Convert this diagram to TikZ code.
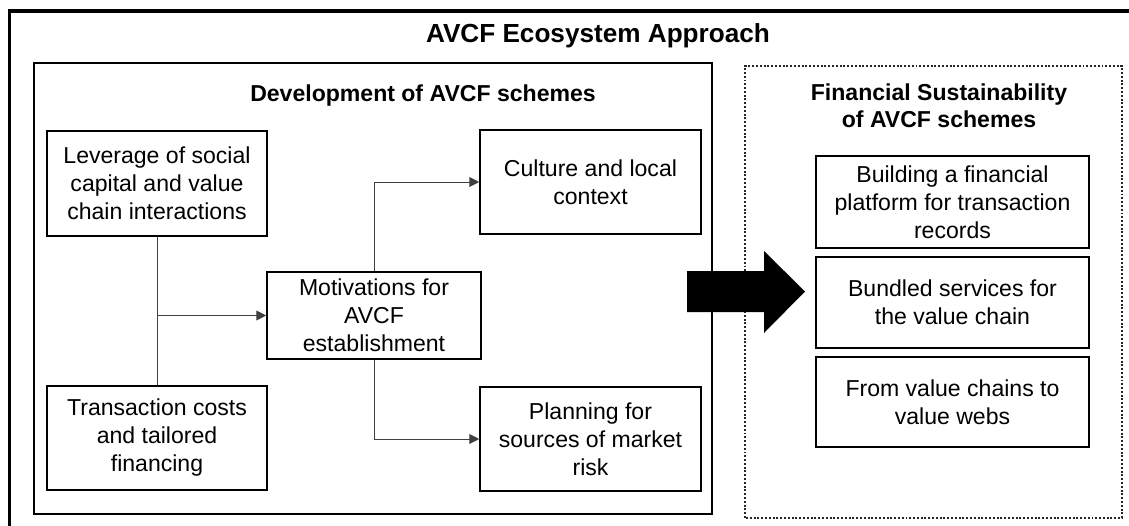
\documentclass[tikz,border=0pt]{standalone}
\usepackage{fontspec}
\setmainfont{Liberation Sans}
\usetikzlibrary{arrows.meta}

\tikzset{
  box/.style={draw, line width=1.1pt, align=center, inner sep=0pt,
    font=\fontsize{16.4}{19.9}\selectfont},
  link/.style={draw=black!75, line width=0.7pt},
  tip/.style={-{Triangle[length=7pt,width=7pt]}},
  heading/.style={font=\bfseries\fontsize{16.4}{19.7}\selectfont, align=center, inner sep=0pt},
  dotbox/.style={draw=black!85, line width=1.6pt, dash pattern=on 1.4pt off 1.3pt},
}

\begin{document}
\begin{tikzpicture}
      \useasboundingbox (0,0) rectangle (28.225,13.125);
      \clip (0,0) rectangle (28.225,13.125);
      % outer frame, runs past the page on the right and bottom
      \draw[line width=2.4pt] (0.2375,-1) rectangle (30,12.85);
      \node[anchor=base, font=\bfseries\fontsize{18.6}{22}\selectfont] (title) at (14.95,12.05) {AVCF Ecosystem Approach};

      % development side
      \draw[line width=1.6pt] (0.85,0.275) rectangle (17.8,11.55);
      \node[heading, anchor=base] (devhead) at (10.575,10.575) {Development of AVCF schemes};
      \node[box, minimum width=5.5cm, minimum height=2.625cm] (lev) at (3.925,8.5375) {Leverage of social\\capital and value\\chain interactions};
      \node[box, minimum width=5.5cm, minimum height=2.6cm] (trans) at (3.925,2.175) {Transaction costs\\and tailored\\financing};
      \node[box, minimum width=5.35cm, minimum height=2.175cm] (mot) at (9.35,5.2375) {Motivations for\\AVCF\\establishment};
      \node[box, minimum width=5.525cm, minimum height=2.6cm] (cult) at (14.7625,8.575) {Culture and local\\context};
      \node[box, minimum width=5.525cm, minimum height=2.6cm] (plan) at (14.7625,2.15) {Planning for\\sources of market\\risk};
      \coordinate (split) at (lev.south |- mot.west);
      \draw[link] (lev) -- (trans);
      \draw[link, tip] (split) -- (mot);
      \draw[link, tip] (mot.north) |- (cult.west);
      \draw[link, tip] (mot.south) |- (plan.west);

      % sustainability side
      \draw[dotbox] (18.625,0.175) rectangle (28.05,11.475);
      \node[heading, anchor=north] (finhead) at (23.475,11.045) {Financial Sustainability\\of AVCF schemes};
      \node[box, minimum width=6.825cm, minimum height=2.3cm] (platform) at (23.8125,8.075) {Building a financial\\platform for transaction\\records};
      \node[box, minimum width=6.825cm, minimum height=2.275cm] (bundle) at (23.8125,5.5625) {Bundled services for\\the value chain};
      \node[box, minimum width=6.825cm, minimum height=2.25cm] (webs) at (23.8125,3.075) {From value chains to\\value webs};

      % big block arrow between the two sides
      \fill (17.175,6.35) -- (19.1,6.35) -- (19.1,6.85) -- (20.125,5.8375)
        -- (19.1,4.8) -- (19.1,5.325) -- (17.175,5.325) -- cycle;
\end{tikzpicture}
\end{document}
